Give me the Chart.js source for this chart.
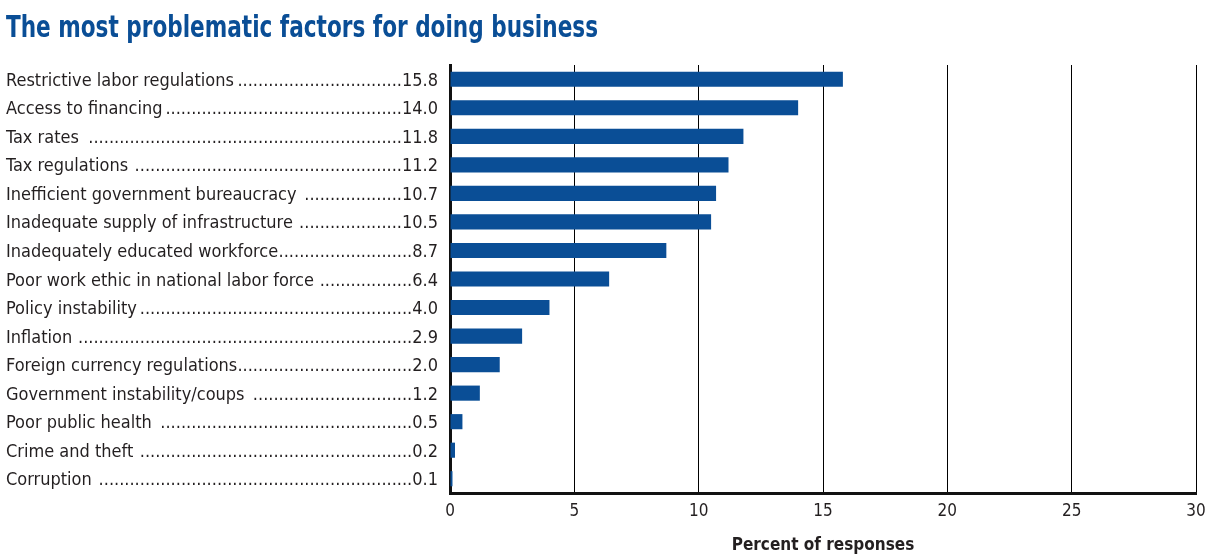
<!DOCTYPE html>
<html><head><meta charset="utf-8">
<script src="https://cdn.jsdelivr.net/npm/chart.js@4"></script>
<style>html,body{margin:0;padding:0;background:#fff}#wrap{width:1207px;height:558px;position:relative}</style>
</head><body><div id="wrap"><canvas id="c" width="1207" height="558"></canvas></div>
<script>
const titleText = 'The most problematic factors for doing business';
const categories = [
  'Restrictive labor regulations',
  'Access to financing',
  'Tax rates ',
  'Tax regulations ',
  'Inefficient government bureaucracy ',
  'Inadequate supply of infrastructure ',
  'Inadequately educated workforce',
  'Poor work ethic in national labor force ',
  'Policy instability',
  'Inflation ',
  'Foreign currency regulations',
  'Government instability/coups ',
  'Poor public health ',
  'Crime and theft ',
  'Corruption '
];
const values = [15.8, 14.0, 11.8, 11.2, 10.7, 10.5, 8.7, 6.4, 4.0, 2.9, 2.0, 1.2, 0.5, 0.2, 0.1];
const xTicks = [0, 5, 10, 15, 20, 25, 30];
const axisTitle = 'Percent of responses';

const FAMILY = '"Liberation Sans Narrow", "DejaVu Sans Condensed", "Roboto Condensed", sans-serif';
const BLUE = '#0a4e96';
const TEXT = '#231f20';

const labelPlugin = {
  id: 'leftLabels',
  afterDraw(chart) {
    const ctx = chart.ctx;
    const ys = chart.scales.y;
    ctx.save();
    ctx.fillStyle = BLUE;
    ctx.textAlign = 'left';
    ctx.textBaseline = 'alphabetic';
    ctx.font = 'bold 31px ' + FAMILY;
    const tw = ctx.measureText(titleText).width;
    const sx = 592 / tw;
    ctx.save();
    ctx.translate(6, 37);
    ctx.scale(sx, 1);
    ctx.fillText(titleText, 0, 0);
    ctx.restore();

    ctx.font = '18px ' + FAMILY;
    ctx.fillStyle = TEXT;
    const right = 438;
    const dw = ctx.measureText('.').width;
    categories.forEach((name, i) => {
      const py = ys.getPixelForValue(i) + 6.5;
      const v = values[i].toFixed(1);
      const vw = ctx.measureText(v).width;
      ctx.textAlign = 'left';
      ctx.fillText(name, 6, py);
      const nw = ctx.measureText(name).width;
      const n = Math.max(0, Math.floor((right - vw - 6 - nw) / dw));
      ctx.textAlign = 'right';
      ctx.fillText('.'.repeat(n) + v, right, py);
    });
    ctx.restore();
  }
};

new Chart(document.getElementById('c'), {
  type: 'bar',
  data: {
    labels: categories,
    datasets: [{ data: values, backgroundColor: BLUE, borderWidth: 0, barPercentage: 0.53, categoryPercentage: 1 }]
  },
  options: {
    indexAxis: 'y',
    responsive: false,
    animation: false,
    devicePixelRatio: 1,
    layout: { padding: { left: 450, right: 11, top: 65, bottom: 0 } },
    plugins: { legend: { display: false }, tooltip: { enabled: false }, title: { display: false } },
    scales: {
      x: {
        min: 0, max: 30,
        afterBuildTicks: s => { s.ticks = xTicks.map(v => ({ value: v })); },
        afterFit: s => { s.height = 65; s.paddingLeft = 0; s.paddingRight = 0; },
        grid: { color: '#000', lineWidth: 1, drawTicks: false },
        border: { color: '#111', width: 3 },
        ticks: { color: TEXT, font: { family: FAMILY, size: 17 }, padding: 8, maxRotation: 0 },
        title: { display: true, text: axisTitle, color: TEXT, font: { family: FAMILY, size: 17, weight: 'bold' }, padding: { top: 0, bottom: 2 } }
      },
      y: {
        afterFit: s => { s.width = 0; },
        grid: { display: false, drawTicks: false },
        border: { color: '#111', width: 3 },
        ticks: { display: false }
      }
    }
  },
  plugins: [labelPlugin]
});
</script>
</body></html>
